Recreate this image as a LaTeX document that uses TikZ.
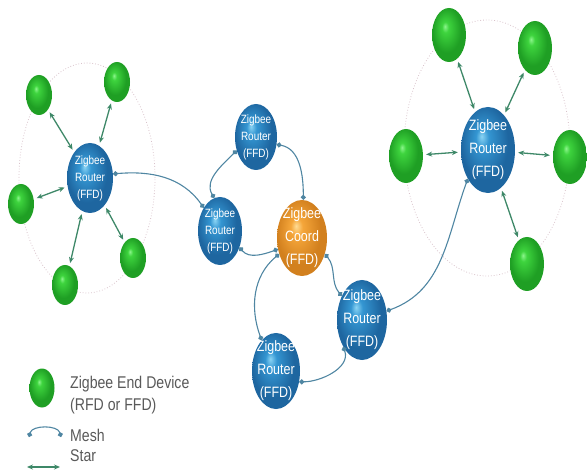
\documentclass[tikz,border=0pt]{standalone}
\usepackage{fontspec}
\setmainfont{Liberation Sans}
\newfontfamily\narrowfont[FakeStretch=0.83]{Liberation Sans}
\usetikzlibrary{shapes.geometric,arrows.meta}

\definecolor{edhi}{HTML}{8CF58C}
\definecolor{edmid}{HTML}{3ED43E}
\definecolor{edlo}{HTML}{1F9F24}
\definecolor{rthi}{HTML}{8AD4F4}
\definecolor{rtmid}{HTML}{3496D2}
\definecolor{rtlo}{HTML}{1E66A0}
\definecolor{cohi}{HTML}{FFDC94}
\definecolor{comid}{HTML}{F5A63A}
\definecolor{colo}{HTML}{D2801E}
\definecolor{meshline}{HTML}{4F86A2}
\definecolor{starline}{HTML}{3E8868}
\definecolor{ringline}{HTML}{D9C3CB}
\definecolor{legendtext}{HTML}{595959}

\pgfdeclareradialshading{edball}{\pgfpoint{-6bp}{8bp}}{color(0bp)=(edhi); color(5bp)=(edmid); color(21bp)=(edlo); color(50bp)=(edlo)}
\pgfdeclareradialshading{rtball}{\pgfpoint{-6bp}{8bp}}{color(0bp)=(rthi); color(6bp)=(rtmid); color(22bp)=(rtlo); color(50bp)=(rtlo)}
\pgfdeclareradialshading{coball}{\pgfpoint{-6bp}{8bp}}{color(0bp)=(cohi); color(6bp)=(comid); color(22bp)=(colo); color(50bp)=(colo)}

\begin{document}
\begin{tikzpicture}[x=1pt, y=1pt,
      enddev/.style={ellipse, inner sep=0pt, shade, shading=edball},
      router/.style={ellipse, inner sep=0pt, shade, shading=rtball},
      coord/.style={ellipse, inner sep=0pt, shade, shading=coball},
      bigtext/.style={text=white, align=center, inner sep=0pt, font=\narrowfont\fontsize{15}{23}\selectfont},
      smalltext/.style={text=white, align=center, inner sep=0pt, font=\narrowfont\fontsize{12}{17}\selectfont},
      legend/.style={text=legendtext, anchor=west, inner sep=0pt, font=\narrowfont\fontsize{17}{20}\selectfont},
      mesh/.style={meshline, line width=1.1pt, {Circle[length=5pt]}-{Circle[length=5pt]}},
      star/.style={starline, line width=1.3pt, {Stealth[length=6pt,width=5pt]}-{Stealth[length=6pt,width=5pt]}, shorten <=3pt, shorten >=3pt},
      ring/.style={ringline, dotted, line width=0.8pt}
    ]
    \useasboundingbox (0,0) rectangle (587,472);

    % star rings
    \draw[ring] (87,294) ellipse [x radius=68, y radius=115];
    \draw[ring] (487,324) ellipse [x radius=83, y radius=128];

    % left star
    \node[router, minimum width=46pt, minimum height=70pt] (G1R) at (90,294) {};
    \node[smalltext] (G1Rt) at (G1R) {Zigbee\\Router\\(FFD)};
    \node[enddev, minimum width=26pt, minimum height=40pt] (G1E1) at (39,377) {};
    \node[enddev, minimum width=26pt, minimum height=40pt] (G1E2) at (117,390) {};
    \node[enddev, minimum width=26pt, minimum height=40pt] (G1E3) at (21,268) {};
    \node[enddev, minimum width=26pt, minimum height=40pt] (G1E4) at (133,214) {};
    \node[enddev, minimum width=26pt, minimum height=40pt] (G1E5) at (65,187) {};

    \draw[star] (G1R) -- (G1E1);
    \draw[star] (G1R) -- (G1E2);
    \draw[star] (G1R) -- (G1E3);
    \draw[star] (G1R) -- (G1E4);
    \draw[star] (G1R) -- (G1E5);

    % mesh
    \node[router, minimum width=42pt, minimum height=66pt] (G2R1) at (256,335) {};
    \node[smalltext] (G2R1t) at (G2R1) {Zigbee\\Router\\(FFD)};
    \node[router, minimum width=44pt, minimum height=68pt] (G2R2) at (220,241) {};
    \node[smalltext] (G2R2t) at (G2R2) {Zigbee\\Router\\(FFD)};
    \node[coord, minimum width=50pt, minimum height=76pt] (G2C) at (302,234) {};
    \node[bigtext] (G2Ct) at (G2C) {Zigbee\\Coord\\(FFD)};
    \node[router, minimum width=50pt, minimum height=80pt] (G2R3) at (362,152) {};
    \node[bigtext] (G2R3t) at (G2R3) {Zigbee\\Router\\(FFD)};
    \node[router, minimum width=48pt, minimum height=76pt] (G2R4) at (276,101) {};
    \node[bigtext] (G2R4t) at (G2R4) {Zigbee\\Router\\(FFD)};

    % right star
    \node[router, minimum width=54pt, minimum height=86pt] (G3R) at (488,322) {};
    \node[bigtext] (G3Rt) at (G3R) {Zigbee\\Router\\(FFD)};
    \node[enddev, minimum width=34pt, minimum height=54pt] (G3E1) at (449,437) {};
    \node[enddev, minimum width=34pt, minimum height=54pt] (G3E2) at (535,424) {};
    \node[enddev, minimum width=34pt, minimum height=54pt] (G3E3) at (406,316) {};
    \node[enddev, minimum width=34pt, minimum height=54pt] (G3E4) at (570,315) {};
    \node[enddev, minimum width=34pt, minimum height=54pt] (G3E5) at (527,208) {};

    \draw[star] (G3R) -- (G3E1);
    \draw[star] (G3R) -- (G3E2);
    \draw[star] (G3R) -- (G3E3);
    \draw[star] (G3R) -- (G3E4);
    \draw[star] (G3R) -- (G3E5);

    \draw[mesh] (G1R.10) to[out=5, in=125] (G2R2.125);
    \draw[mesh] (G2R2.100) to[out=120, in=225] (G2R1.215);
    \draw[mesh] (G2R1.-20) to[out=-10, in=90] (G2C.88);
    \draw[mesh] (G2R2.-40) to[out=-50, in=200] (G2C.205);
    \draw[mesh] (G2C.-35) to[out=-50, in=130] (G2R3.130);
    \draw[mesh] (G2C.215) to[out=220, in=110] (G2R4.115);
    \draw[mesh] (G2R4.-25) to[out=0, in=-70] (G2R3.235);
    \draw[mesh] (G2R3.20) to[out=20, in=-110] (G3R.235);

    % legend
    \node[enddev, minimum width=25pt, minimum height=39pt] (K1) at (42,84) {};
    \node[legend] (K1a) at (70,88) {Zigbee End Device};
    \node[legend] (K1b) at (70,66) {(RFD or FFD)};
    \coordinate (K2a) at (29,35);
    \coordinate (K2b) at (61,35);
    \draw[mesh] (K2a) to[out=75, in=105] (K2b);
    \node[legend] (K2) at (70,37) {Mesh};
    \coordinate (K3a) at (27,5);
    \coordinate (K3b) at (60,5);
    \draw[star, shorten <=0pt, shorten >=0pt] (K3a) -- (K3b);
    \node[legend] (K3) at (70,16) {Star};

\end{tikzpicture}
\end{document}
